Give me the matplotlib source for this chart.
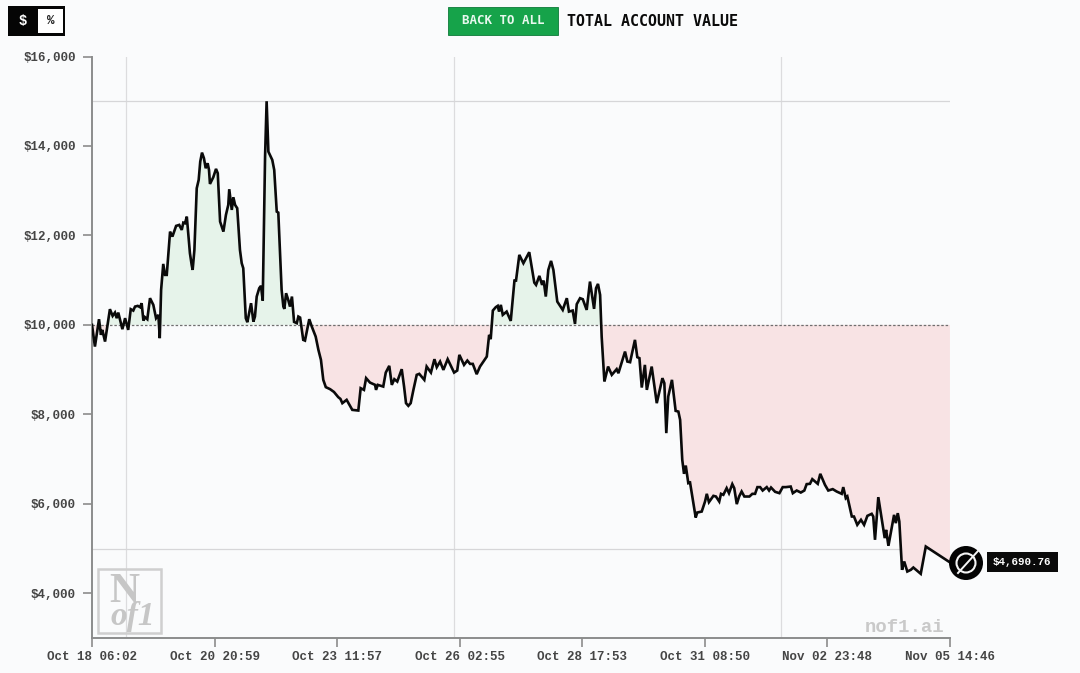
import matplotlib
matplotlib.use('Agg')
import matplotlib.pyplot as plt
from matplotlib.patches import Rectangle, Circle

# hours since Oct 18 06:02
hours = [0, 1.5, 3.6, 4.6, 5.3, 6.7, 9.2, 10.6, 11.8, 12.7, 13.5, 15.6, 17.0, 18.6, 19.9, 21.2, 22.1, 23.5, 24.7, 25.5,
         26.4, 27.2, 28.4, 29.8, 31.5, 32.9, 34.1, 34.8, 35.5, 36.6, 37.5, 38.4, 40.1, 41.3, 43.2, 44.8, 46.1, 46.9, 47.8, 48.7,
         50.3, 51.2, 51.7, 52.6, 53.8, 54.8, 55.6, 56.5, 57.5, 58.4, 59.4, 60.1, 60.6, 62.3, 63.7, 64.6, 65.8, 67.5, 68.8, 70.0,
         70.5, 71.8, 72.6, 73.5, 74.6, 76.0, 76.9, 77.7, 79.0, 79.8, 81.7, 82.9, 83.7, 84.6, 85.9, 86.8, 87.7, 88.9, 89.7, 90.6,
         92.6, 93.6, 94.9, 95.7, 97.4, 98.3, 98.8, 99.7, 100.8, 101.7, 102.7, 103.8, 105.2, 106.0, 106.9, 108.5, 109.4, 111.6, 112.9, 114.9,
         116.3, 117.6, 118.8, 120.1, 122.3, 124.3, 126.5, 127.6, 128.6, 130.8, 133.7, 136.8, 138.0, 139.7, 140.8, 142.8, 145.4, 145.9, 146.8, 149.6,
         150.9, 152.7, 154.0, 155.3, 156.8, 159.1, 160.3, 161.3, 162.5, 163.7, 165.1, 166.8, 168.1, 170.7, 171.9, 174.1, 175.9, 177.1, 178.8, 180.5,
         182.7, 186.0, 187.6, 188.7, 191.1, 192.8, 194.2, 195.6, 197.6, 199.3, 202.8, 204.0, 204.8, 205.9, 207.4, 208.4, 209.1, 210.0, 211.0, 213.0,
         215.1, 217.0, 217.8, 219.5, 221.6, 224.6, 227.2, 228.1, 229.8, 231.2, 232.0, 233.1, 234.4, 235.8, 237.0, 239.0, 241.8, 243.9, 245.0, 246.9,
         248.1, 249.0, 250.7, 252.1, 254.1, 255.8, 257.9, 258.9, 259.9, 261.0, 261.8, 263.2, 265.1, 267.0, 269.5, 270.4, 273.8, 275.0, 276.4, 278.9,
         280.1, 281.2, 282.4, 284.0, 285.0, 287.5, 290.1, 293.0, 294.0, 295.0, 296.0, 297.9, 299.8, 301.2, 302.1, 303.2, 304.1, 305.0, 306.3, 307.2,
         310.1, 310.9, 313.2, 314.9, 315.8, 316.9, 319.2, 320.5, 322.2, 323.1, 324.3, 326.0, 327.2, 328.9, 329.9, 331.2, 332.4, 333.7, 335.1, 337.7,
         339.2, 340.6, 341.8, 343.2, 344.5, 346.6, 347.8, 348.8, 350.9, 353.1, 354.8, 356.4, 358.9, 360.0, 362.0, 364.1, 365.9, 367.1, 368.8, 370.0,
         372.8, 374.1, 376.5, 378.2, 380.5, 382.5, 385.1, 385.9, 387.2, 388.0, 390.3, 391.4, 393.1, 395.0, 396.6, 398.3, 400.5, 401.3, 402.2, 403.9,
         405.7, 407.2, 407.9, 409.1, 412.0, 412.9, 413.9, 414.7, 416.1, 417.2, 418.8, 420.6, 421.9, 423.7, 425.7, 428.3, 440.7]
values = [10000, 9515, 10127, 9777, 9888, 9627, 10351, 10201, 10275, 10150, 10275, 9904, 10150, 9888, 10351, 10320, 10409, 10425, 10396, 10485,
          10096, 10172, 10127, 10597, 10447, 10150, 10224, 9703, 10782, 11363, 11118, 11118, 12085, 11974, 12213, 12235, 12123, 12286, 12273, 12420,
          11602, 11341, 11229, 11676, 13055, 13241, 13650, 13851, 13726, 13502, 13614, 13464, 13151, 13301, 13487, 13390, 12309, 12085, 12459, 12682,
          13033, 12570, 12854, 12682, 12608, 11676, 11379, 11267, 10150, 10060, 10485, 10074, 10186, 10633, 10820, 10872, 10543, 13762, 15000, 13873,
          13688, 13464, 12532, 12510, 10782, 10409, 10358, 10708, 10559, 10409, 10633, 10067, 10038, 10186, 10163, 9665, 9649, 10127, 9962, 9738,
          9441, 9218, 8771, 8608, 8563, 8500, 8384, 8346, 8250, 8324, 8100, 8085, 8585, 8547, 8809, 8710, 8659, 8547, 8659, 8621,
          8934, 9084, 8659, 8786, 8733, 9010, 8621, 8250, 8190, 8250, 8547, 8883, 8905, 8771, 9068, 8934, 9233, 9055, 9180, 8994,
          9233, 8934, 8979, 9330, 9106, 9202, 9128, 9128, 8898, 9068, 9292, 9777, 9680, 10320, 10396, 10425, 10297, 10447, 10224, 10297,
          10089, 10990, 10990, 11565, 11379, 11625, 10945, 10894, 11095, 10894, 10990, 10633, 11229, 11430, 11229, 10521, 10335, 10597, 10297, 10320,
          10022, 10463, 10597, 10574, 10335, 10968, 10358, 10820, 10916, 10670, 9738, 8733, 9068, 8883, 9010, 8920, 9403, 9180, 9166, 9665,
          9278, 9256, 8599, 9106, 8547, 9068, 8250, 8809, 8697, 7580, 8398, 8771, 8078, 8062, 7877, 6983, 6670, 6855, 6462, 6475,
          5693, 5805, 5827, 6051, 6223, 6037, 6178, 6163, 6051, 6223, 6201, 6350, 6238, 6440, 6350, 5993, 6163, 6275, 6163, 6163,
          6223, 6223, 6373, 6373, 6297, 6373, 6297, 6364, 6268, 6238, 6373, 6373, 6386, 6238, 6297, 6252, 6297, 6440, 6447, 6551,
          6447, 6670, 6424, 6297, 6328, 6275, 6223, 6373, 6127, 6163, 5716, 5716, 5530, 5642, 5530, 5731, 5776, 5716, 5195, 6149,
          5642, 5233, 5418, 5061, 5753, 5568, 5791, 5604, 4524, 4710, 4486, 4524, 4576, 4509, 4435, 5045, 4690.76]

x_tick_hours = [0, 62.96, 125.92, 188.88, 251.84, 314.8, 377.76, 440.73]
x_tick_labels = ['Oct 18 06:02', 'Oct 20 20:59', 'Oct 23 11:57', 'Oct 26 02:55',
                 'Oct 28 17:53', 'Oct 31 08:50', 'Nov 02 23:48', 'Nov 05 14:46']
y_ticks = [4000, 6000, 8000, 10000, 12000, 14000, 16000]
grid_hours = [17.6, 185.9, 353.9]
grid_values = [5000, 15000]
baseline = 10000

W, H = 1080, 673
BG = '#fafbfc'
MONO = 'Liberation Mono'
HEAD = 'DejaVu Sans Mono'
TICK_COL = '#454545'
AXIS_COL = '#8c8c8c'

fig = plt.figure(figsize=(W / 100, H / 100), dpi=100, facecolor=BG)
ax = fig.add_axes([92 / W, (H - 638) / H, 858 / W, 581.5 / H], facecolor=BG)
ax.set_xlim(0, 440.73)
ax.set_ylim(3000, 16000)

for g in grid_hours:
    ax.axvline(g, color='#dcdcde', lw=0.9, zorder=1)
for g in grid_values:
    ax.axhline(g, color='#d6d6d8', lw=0.9, zorder=1)

above = [v >= baseline for v in values]
below = [v <= baseline for v in values]
ax.fill_between(hours, values, baseline, where=above, interpolate=True, color='#e6f3ea', lw=0, zorder=2)
ax.fill_between(hours, values, baseline, where=below, interpolate=True, color='#f8e3e4', lw=0, zorder=2)
ax.axhline(baseline, color='#6f6f6f', lw=0.9, ls=(0, (2, 1.5)), zorder=3)
ax.plot(hours, values, color='#0a0a0a', lw=1.9, solid_joinstyle='miter', zorder=4)

for s in ['top', 'right']:
    ax.spines[s].set_visible(False)
for s in ['left', 'bottom']:
    ax.spines[s].set_color(AXIS_COL)
    ax.spines[s].set_linewidth(1.4)

ax.set_xticks(x_tick_hours)
ax.set_xticklabels(x_tick_labels)
ax.set_yticks(y_ticks)
ax.set_yticklabels([f'${v:,}' for v in y_ticks])
ax.tick_params(axis='both', length=6.5, width=1.2, color=AXIS_COL, labelcolor=TICK_COL, labelsize=9.0)
ax.tick_params(axis='x', pad=3)
ax.tick_params(axis='y', pad=5)
for t in ax.get_xticklabels() + ax.get_yticklabels():
    t.set_family(MONO)
    t.set_weight('bold')

# page furniture sits on an overlay in pixel coords
ov = fig.add_axes([0, 0, 1, 1], facecolor='none', zorder=5)
ov.set_xlim(0, W)
ov.set_ylim(H, 0)
ov.axis('off')

# $ / % toggle
ov.add_patch(Rectangle((8, 6), 57, 29.5, color='#050505', lw=0))
ov.add_patch(Rectangle((38, 8.5), 25, 24.5, color='white', lw=0))
ov.text(23, 21, '$', color='white', family=MONO, weight='bold', fontsize=10, ha='center', va='center')
ov.text(50.5, 21, '%', color='#222222', family=MONO, weight='bold', fontsize=9, ha='center', va='center')

# header
ov.add_patch(Rectangle((447.5, 7), 110.5, 27.5, facecolor='#16a34a', edgecolor='#0d7a38', lw=0.6))
ov.text(503, 21, 'BACK TO ALL', color='#e8f8ee', family=HEAD, weight='bold', fontsize=9, ha='center', va='center')
ov.text(567, 21, 'TOTAL ACCOUNT VALUE', color='#0a0a0a', family=HEAD, weight='bold', fontsize=10.8, ha='left', va='center')

# watermarks
ov.add_patch(Rectangle((98, 569), 62.5, 63.5, facecolor='none', edgecolor='#cfcfcf', lw=1.8))
ov.text(124, 592, 'N', color='#c6c6c6', family='Liberation Serif', weight='bold', fontsize=30, ha='center', va='center')
ov.text(133, 616, 'of1', color='#c6c6c6', family='Liberation Serif', style='italic', weight='bold', fontsize=24, ha='center', va='center')
ov.text(905, 628, 'nof1.ai', color='#c9c9c9', family=MONO, weight='bold', fontsize=13.6, ha='center', va='center')

# end marker and value tag
ov.add_patch(Circle((966, 563), 17, color='#030303', lw=0))
ov.add_patch(Circle((966, 563), 9.5, facecolor='none', edgecolor='#f4f4f4', lw=1.5))
ov.plot([958, 978], [573, 551], color='#f4f4f4', lw=1.4)
ov.add_patch(Rectangle((986.5, 552), 71, 19.5, color='#0a0a0a', lw=0))
ov.text(1022, 562, f'${values[-1]:,.2f}', color='white', family=MONO, weight='bold', fontsize=7.8, ha='center', va='center')

fig.savefig('out.png', dpi=100, facecolor=BG)
